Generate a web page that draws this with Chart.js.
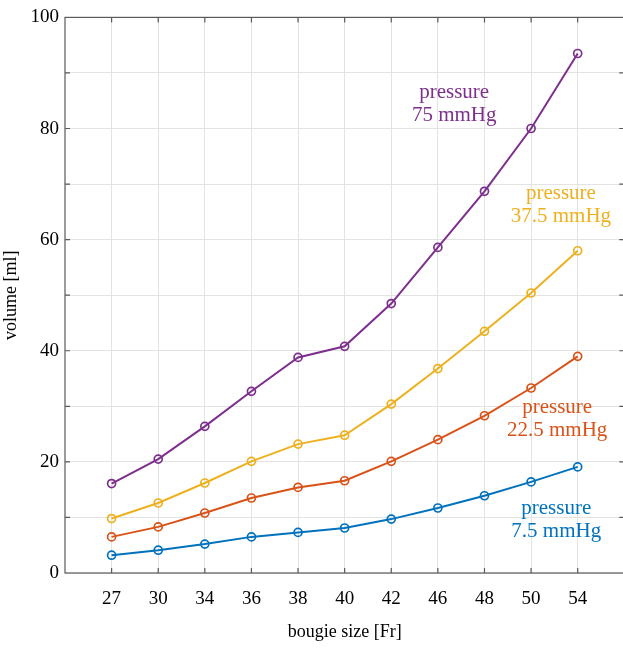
<!DOCTYPE html>
<html>
<head>
<meta charset="utf-8">
<script src="https://cdn.jsdelivr.net/npm/chart.js@4/dist/chart.umd.min.js"></script>
<style>
  html, body { margin: 0; padding: 0; background: #fff; overflow: hidden; }
  #wrap { width: 630px; height: 648px; }
</style>
</head>
<body>
<div id="wrap"><canvas id="chart" width="630" height="648"></canvas></div>
<script>
// bougie sizes (categories) and measured volumes per pressure
const sizes = ['27', '30', '34', '36', '38', '40', '42', '46', '48', '50', '54'];
const vol75 = [16.1, 20.5, 26.4, 32.7, 38.8, 40.8, 48.5, 58.6, 68.7, 80.0, 93.5];
const vol37_5 = [9.8, 12.6, 16.2, 20.1, 23.2, 24.8, 30.4, 36.8, 43.5, 50.4, 58.0];
const vol22_5 = [6.5, 8.3, 10.8, 13.5, 15.4, 16.6, 20.1, 24.0, 28.3, 33.3, 39.0];
const vol7_5 = [3.2, 4.1, 5.2, 6.5, 7.3, 8.1, 9.7, 11.7, 13.9, 16.4, 19.1];
const yTicks = [0, 20, 40, 60, 80, 100];

const SERIF = '"Liberation Serif", "DejaVu Serif", serif';

const series = [
    { name: '75 mmHg', data: vol75, color: '#7E2F8E' },
    { name: '37.5 mmHg', data: vol37_5, color: '#EDB120' },
    { name: '22.5 mmHg', data: vol22_5, color: '#D95319' },
    { name: '7.5 mmHg', data: vol7_5, color: '#0072BD' }
];

// where each "pressure ..." label sits, in axis units (category index, volume)
const labelSpots = [
    { x: 7.35, y: 84.5 },
    { x: 9.64, y: 66.3 },
    { x: 9.56, y: 27.8 },
    { x: 9.54, y: 9.5 }
];

const datasets = series.map(s => ({
    label: s.name,
    data: s.data.map((v, i) => ({ x: i, y: v })),
    borderColor: s.color,
    backgroundColor: 'transparent',
    borderWidth: 2,
    pointRadius: 4,
    pointBorderWidth: 1.7,
    pointBackgroundColor: 'transparent',
    pointBorderColor: s.color,
    tension: 0
}));

// box, inward ticks and series labels, MATLAB style
const boxPlugin = {
    id: 'box',
    afterDatasetsDraw(chart) {
        const { ctx, chartArea: a, scales } = chart;
        ctx.save();
        ctx.strokeStyle = '#5a5a5a';
        ctx.lineWidth = 1.2;
        ctx.strokeRect(a.left, a.top, a.right - a.left, a.bottom - a.top);
        ctx.beginPath();
        sizes.forEach((_, i) => {
            const px = scales.x.getPixelForValue(i);
            ctx.moveTo(px, a.bottom); ctx.lineTo(px, a.bottom - 5);
            ctx.moveTo(px, a.top); ctx.lineTo(px, a.top + 5);
        });
        for (let v = 10; v < 100; v += 10) {
            const py = scales.y.getPixelForValue(v);
            ctx.moveTo(a.left, py); ctx.lineTo(a.left + 5, py);
            ctx.moveTo(a.right, py); ctx.lineTo(a.right - 5, py);
        }
        ctx.stroke();

        ctx.font = '21px ' + SERIF;
        ctx.textAlign = 'center';
        ctx.textBaseline = 'middle';
        series.forEach((s, k) => {
            const px = scales.x.getPixelForValue(labelSpots[k].x);
            const py = scales.y.getPixelForValue(labelSpots[k].y);
            ctx.fillStyle = s.color;
            ctx.fillText('pressure', px, py - 11.5);
            ctx.fillText(s.name, px, py + 11.5);
        });
        ctx.restore();
    }
};

new Chart(document.getElementById('chart'), {
    type: 'line',
    data: { datasets },
    options: {
        responsive: false,
        animation: false,
        devicePixelRatio: 1,
        layout: { padding: { top: 15, right: 5, left: 0, bottom: 0 } },
        plugins: { legend: { display: false }, tooltip: { enabled: false } },
        scales: {
            x: {
                type: 'linear',
                min: -1,
                max: 11,
                afterBuildTicks: scale => { scale.ticks = sizes.map((_, i) => ({ value: i })); },
                afterFit: scale => { scale.height = 75; },
                ticks: {
                    callback: v => sizes[v],
                    color: '#000',
                    font: { family: SERIF, size: 19 },
                    padding: 15,
                    maxRotation: 0
                },
                grid: { color: '#e3e3e3', lineWidth: 1, drawTicks: false },
                border: { display: false },
                title: {
                    display: true,
                    text: 'bougie size [Fr]',
                    color: '#000',
                    font: { family: SERIF, size: 18 },
                    padding: { top: 0, bottom: 5 }
                }
            },
            y: {
                min: 0,
                max: 100,
                afterBuildTicks: scale => {
                    const t = [];
                    for (let v = 0; v <= 100; v += 10) t.push({ value: v });
                    scale.ticks = t;
                },
                afterFit: scale => { scale.width = 65; },
                ticks: {
                    callback: v => (yTicks.includes(v) ? String(v) : ''),
                    color: '#000',
                    font: { family: SERIF, size: 19 },
                    padding: 6
                },
                grid: { color: '#e3e3e3', lineWidth: 1, drawTicks: false },
                border: { display: false },
                title: {
                    display: true,
                    text: 'volume [ml]',
                    color: '#000',
                    font: { family: SERIF, size: 18 },
                    padding: { top: 0, bottom: 6 }
                }
            }
        }
    },
    plugins: [boxPlugin]
});
</script>
</body>
</html>
